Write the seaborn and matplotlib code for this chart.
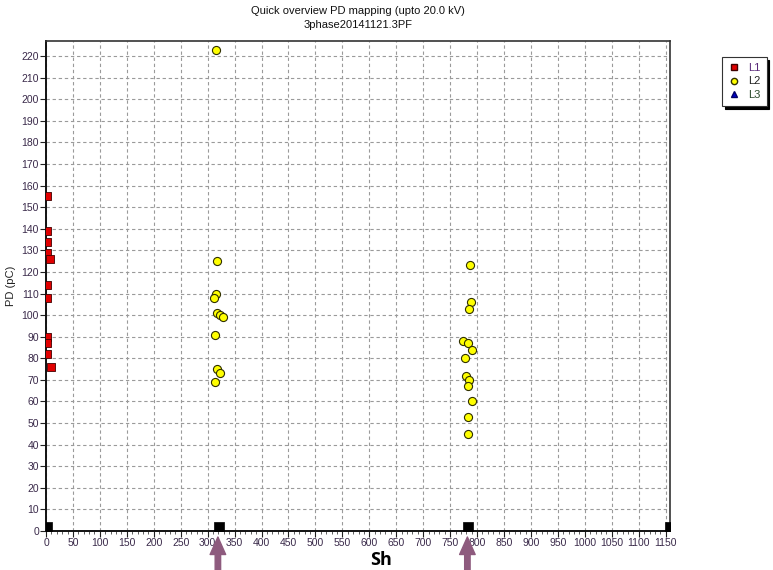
import matplotlib
matplotlib.use("Agg")
import matplotlib.pyplot as plt
import seaborn as sns
import pandas as pd
from matplotlib.lines import Line2D

# ---------------- data ----------------
l1_x = [1, 1, 1, 1, 8, 1, 1, 1, 1, 1, 9]
l1_y = [155, 139, 134, 129, 126, 114, 108, 90, 87, 82, 76]

l2_x = [315, 318, 315, 311, 318, 322, 328, 313, 318, 322, 313,
        786, 788, 785, 774, 783, 790, 778, 779, 785, 783, 791, 784, 784]
l2_y = [223, 125, 110, 108, 101, 100, 99, 91, 75, 73, 69,
        123, 106, 103, 88, 87, 84, 80, 72, 70, 67, 60, 53, 45]

l3_x = []
l3_y = []

mark_x = [1, 321, 783, 1158]
mark_y = [2, 2, 2, 2]

arrow_x = [319, 782]

title_lines = ["Quick overview PD mapping (upto 20.0 kV)", "3phase20141121.3PF"]
x_ticks = list(range(0, 1151, 50))
y_ticks = list(range(0, 221, 10))
legend_labels = ["L1", "L2", "L3"]

# ---------------- plot ----------------
sns.set_theme(style="white")
plt.rcParams["font.family"] = ["Liberation Sans", "DejaVu Sans"]

fig = plt.figure(figsize=(7.73, 5.70), dpi=100)
ax = fig.add_axes([46 / 773, 1 - 531 / 570, 624 / 773, 490 / 570])

df1 = pd.DataFrame({"x": l1_x, "y": l1_y})
df2 = pd.DataFrame({"x": l2_x, "y": l2_y})
dfm = pd.DataFrame({"x": mark_x, "y": mark_y})

sns.scatterplot(data=df1, x="x", y="y", ax=ax, marker="s", s=26,
                color="#e00000", edgecolor="#400000", linewidth=0.6,
                legend=False, zorder=5)
sns.scatterplot(data=df2, x="x", y="y", ax=ax, marker="o", s=34,
                color="#ffff00", edgecolor="#303000", linewidth=0.8,
                legend=False, zorder=5)
if l3_x:
    sns.scatterplot(x=l3_x, y=l3_y, ax=ax, marker="^", s=30,
                    color="#0000cc", legend=False, zorder=5)
sns.scatterplot(data=dfm, x="x", y="y", ax=ax, marker="s", s=45,
                color="black", edgecolor="black", linewidth=0.5,
                legend=False, zorder=6)

ax.set_xlim(0, 1158)
ax.set_ylim(0, 227)
ax.set_xticks(x_ticks)
ax.set_xticks(list(range(0, 1158, 10)), minor=True)
ax.set_yticks(y_ticks)
ax.tick_params(axis="both", which="major", direction="out", length=4,
               width=0.8, color="#222222", labelsize=7.5, labelcolor="#3a2a4a",
               pad=1, bottom=True, left=True)
ax.tick_params(axis="x", which="minor", direction="out", length=2,
               width=0.6, color="#444444", bottom=True)
ax.set_xlabel("")
ax.set_ylabel("PD (pC)", fontsize=8, color="#222222", labelpad=4)

ax.grid(True, which="major", linestyle=(0, (3, 2.5)), color="#9a9a9a",
        linewidth=0.8)
for side in ["left", "bottom"]:
    ax.spines[side].set_color("#111111")
    ax.spines[side].set_linewidth(1.4)
for side in ["top", "right"]:
    ax.spines[side].set_color("#333333")
    ax.spines[side].set_linewidth(1.2)

ax.set_title(title_lines[0] + "\n" + title_lines[1], fontsize=8,
             color="#111111", pad=9, linespacing=1.6)

handles = [
    Line2D([], [], marker="s", linestyle="", markersize=5,
           markerfacecolor="#e00000", markeredgecolor="#400000"),
    Line2D([], [], marker="o", linestyle="", markersize=4.5,
           markerfacecolor="#ffff00", markeredgecolor="#303000"),
    Line2D([], [], marker="^", linestyle="", markersize=5,
           markerfacecolor="#0000cc", markeredgecolor="#000066"),
]
leg = fig.legend(handles, legend_labels, loc="upper left",
                 bbox_to_anchor=(722 / 773, 1 - 57 / 570), frameon=True,
                 fancybox=False, shadow={"color": "black", "alpha": 1.0},
                 fontsize=8, handlelength=1.0, handletextpad=0.8,
                 labelspacing=0.3, borderpad=0.55, borderaxespad=0)
leg.get_frame().set_edgecolor("#333333")
leg.get_frame().set_linewidth(0.8)
for t, c in zip(leg.get_texts(), ["#5a2a7a", "#222222", "#2a4a2a"]):
    t.set_color(c)

for xa in arrow_x:
    ax.annotate("", xy=(xa, 1 - 537 / 570), xytext=(xa, -0.02),
                xycoords=("data", "figure fraction"),
                textcoords=("data", "figure fraction"),
                arrowprops=dict(arrowstyle="simple,head_length=0.9,head_width=0.8,tail_width=0.28",
                                color="#8e5b7e", mutation_scale=14,
                                shrinkA=0, shrinkB=0),
                annotation_clip=False)

fig.text(370 / 773, 1 / 570, "Sh", fontsize=13, fontweight="bold",
         color="black", va="bottom", ha="left", family=["Open Sans", "DejaVu Sans"])

fig.savefig("out.png", dpi=100)
